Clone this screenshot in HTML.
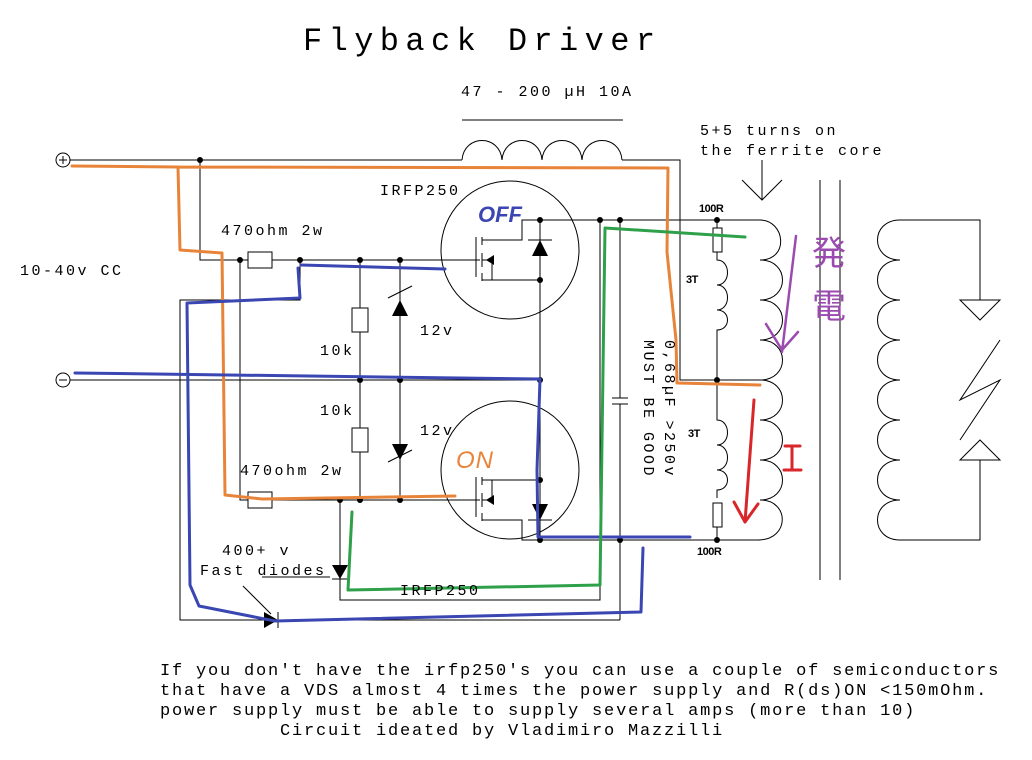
<!DOCTYPE html>
<html><head><meta charset="utf-8"><style>
html,body{margin:0;padding:0;background:#fff;width:1032px;height:760px;overflow:hidden}
svg{display:block}
text{font-family:"Liberation Mono",monospace;fill:#000}
.l{font-size:15px;letter-spacing:2.5px}
.b{font-size:17px;letter-spacing:1.8px}
.s{font-family:"Liberation Sans",sans-serif;font-size:11px;font-weight:bold;letter-spacing:-0.5px}
</style></head><body>
<svg width="1032" height="760" viewBox="0 0 1032 760" xmlns="http://www.w3.org/2000/svg">
<g stroke="#000" stroke-width="1" fill="none">
<path d="M70 160H462 M462 160c2-26 38-26 40 0c2-26 38-26 40 0c2-26 38-26 40 0c2-26 38-26 40 0 M622 160H680V380H717H760"/>
<path d="M462 120H623"/>
<circle cx="63" cy="160" r="7"/><path d="M59 160h8M63 156v8"/>
<circle cx="63" cy="380" r="7"/><path d="M59 380h8"/>
<path d="M70 380H540"/>
<path d="M200 160V260H248 M272 260H470 M240 260V500H248 M272 500H470"/>
<rect x="248" y="252" width="24" height="16"/><rect x="248" y="492" width="24" height="16"/>
<path d="M300 260V300H180V620H620 M340 500V600H600V220"/>
<path d="M360 260V308 M360 332V428 M360 452V500"/>
<rect x="352" y="308" width="16" height="24"/><rect x="352" y="428" width="16" height="24"/>
<path d="M400 260V500 M388 298l24-12 M388 462l24-12"/>
<circle cx="510" cy="250" r="69"/><circle cx="510" cy="470" r="69"/>
<path d="M470 260h10 M476 237v40 M482 237v8 M482 253v14 M482 273v8 M482 240h40v-20h18 M482 280h58 M482 260h10v20 M540 220V540 M528 240h24"/>
<path d="M470 500h10 M476 477v40 M482 477v8 M482 493v14 M482 513v8 M482 480h58 M482 520h40v20h18 M482 500h10v-20 M528 520h24"/>
<path d="M540 220H717V228 M717 252v2 M717 220H760"/>
<path d="M620 220V398 M612 398h16 M612 404h16 M620 404V620"/>
<path d="M540 540H717V527 M717 540H760"/>
<rect x="713" y="228" width="9" height="24"/><rect x="713" y="503" width="9" height="24"/>
<path d="M717 254v6c14 0 14 25 0 25c14 0 14 25 0 25c14 0 14 20 0 20v50 M717 380v40c14 0 14 25 0 25c14 0 14 25 0 25c14 0 14 20 0 20v8"/>
<path d="M760 220c25 0 30 40 0 40c30 0 30 40 0 40c30 0 30 40 0 40c30 0 30 40 0 40c30 0 30 40 0 40c30 0 30 40 0 40c30 0 30 40 0 40c30 0 30 40 -2 40"/>
<path d="M820 180V580 M840 180V580"/>
<path d="M900 220c-30 0 -30 40 0 40c-30 0 -30 40 0 40c-30 0 -30 40 0 40c-30 0 -30 40 0 40c-30 0 -30 40 0 40c-30 0 -30 40 0 40c-30 0 -30 40 0 40c-30 0 -30 40 0 40"/>
<path d="M900 220H980V300 M960 300h40l-20 20z M960 460h40l-20-20z M980 460V540H900 M1000 340l-40 60l40-20l-40 60"/>
<path d="M762 160V200 M742 180l20 20l20-20"/>
<path d="M330 577H262 M243 586l28 28"/>
</g>
<g fill="#000">
<circle cx="200" cy="160" r="3"/><circle cx="240" cy="260" r="3"/><circle cx="300" cy="260" r="3"/><circle cx="360" cy="260" r="3"/><circle cx="400" cy="260" r="3"/>
<circle cx="360" cy="380" r="3"/><circle cx="400" cy="380" r="3"/><circle cx="540" cy="380" r="3"/>
<circle cx="340" cy="500" r="3"/><circle cx="360" cy="500" r="3"/><circle cx="400" cy="500" r="3"/>
<circle cx="540" cy="220" r="3"/><circle cx="540" cy="280" r="3"/><circle cx="600" cy="220" r="3"/><circle cx="620" cy="220" r="3"/>
<circle cx="540" cy="480" r="3"/><circle cx="540" cy="540" r="3"/><circle cx="620" cy="540" r="3"/>
<circle cx="717" cy="220" r="3"/><circle cx="717" cy="380" r="3"/><circle cx="717" cy="540" r="3"/>
<path d="M540 240l-8 16h16z M540 520l-8-16h16z M400 300l-8 16h16z M400 460l-8-16h16z"/>
<path d="M486 260l8-5v10z M486 500l8-5v10z"/>
<path d="M332 565h16l-8 14z M264 612v16l14-8z"/>
</g>
<path d="M340 565v30 M332 579h16 M278 612v16" stroke="#000" fill="none"/>
<g fill="none" stroke-width="3" stroke-linecap="round" stroke-linejoin="round">
<path stroke="#e8843a" d="M72 166L178 167L180 250L222 253L225 495L262 499L455 496 M178 167L668 168L667 252L676 340L677 383L760 385"/>
<path stroke="#3a46b2" d="M75 373L540 379L537 470L538 537L690 537 M298 268L300 298L187 303L190 585L199 606L275 621L641 612L643 548 M301 265L445 269"/>
<path stroke="#2ea04a" d="M352 512L348 590L600 585L605 228L745 237"/>
<path stroke="#9b4bb0" d="M796 236L782 352 M766 324L782 350L798 332" stroke-width="2.5"/>
<path stroke="#d9262a" d="M754 400L745 522 M734 502L745 522L758 504 M785 446h15 M792 446v24 M784 470h17"/>
</g>
<text x="478" y="222" style="fill:#3a46b2;font-family:'Liberation Sans',sans-serif;font-style:italic;font-weight:bold;font-size:22px">OFF</text>
<text x="456" y="468" style="fill:#e8843a;font-family:'Liberation Sans',sans-serif;font-style:italic;font-size:24px;letter-spacing:1px">ON</text>
<text x="812" y="265" style="fill:#9b4bb0;font-family:'Noto Sans CJK JP',sans-serif;font-size:34px">発</text>
<text x="812" y="318" style="fill:#9b4bb0;font-family:'Noto Sans CJK JP',sans-serif;font-size:34px">電</text>
<text x="303" y="50" style="font-size:32px;letter-spacing:6.4px">Flyback Driver</text>
<text x="461" y="96" class="l">47 - 200 µH 10A</text>
<text x="700" y="135" class="l">5+5 turns on</text>
<text x="700" y="155" class="l">the ferrite core</text>
<text x="380" y="195" class="l">IRFP250</text>
<text x="221" y="235" class="l">470ohm 2w</text>
<text x="20" y="275" class="l">10-40v CC</text>
<text x="420" y="335" class="l">12v</text>
<text x="320" y="355" class="l">10k</text>
<text x="320" y="415" class="l">10k</text>
<text x="420" y="435" class="l">12v</text>
<text x="240" y="475" class="l">470ohm 2w</text>
<text x="222" y="555" class="l">400+ v</text>
<text x="200" y="575" class="l">Fast diodes</text>
<text x="400" y="595" class="l">IRFP250</text>
<text transform="translate(665,340) rotate(90)" class="l">0,68µF &gt;250v</text>
<text transform="translate(644,340) rotate(90)" class="l">MUST BE GOOD</text>
<text x="699" y="212" class="s">100R</text>
<text x="686" y="283" class="s">3T</text>
<text x="688" y="437" class="s">3T</text>
<text x="697" y="555" class="s">100R</text>
<text x="160" y="675" class="b">If you don't have the irfp250's you can use a couple of semiconductors</text>
<text x="160" y="695" class="b">that have a VDS almost 4 times the power supply and R(ds)ON &lt;150mOhm.</text>
<text x="160" y="715" class="b">power supply must be able to supply several amps (more than 10)</text>
<text x="280" y="735" class="b">Circuit ideated by Vladimiro Mazzilli</text>
</svg>
</body></html>
